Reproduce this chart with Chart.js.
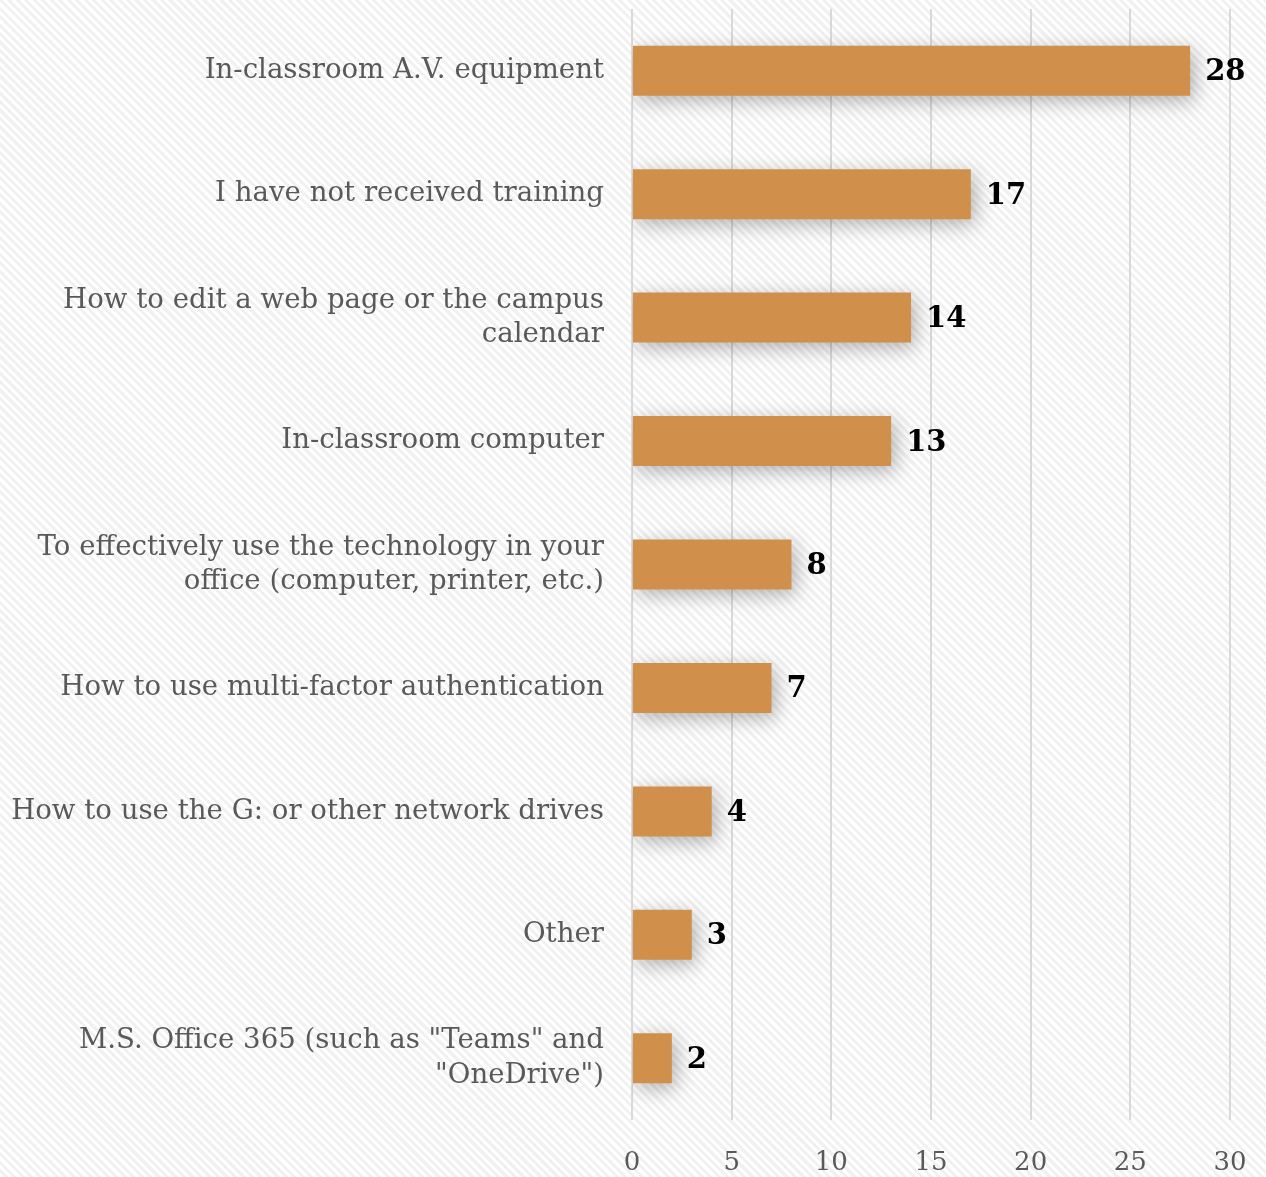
<!DOCTYPE html>
<html>
<head>
<meta charset="utf-8">
<script src="https://cdn.jsdelivr.net/npm/chart.js@4/dist/chart.umd.min.js"></script>
<style>
  html, body {
    margin: 0;
    padding: 0;
  }
  body {
    width: 1266px;
    height: 1177px;
    background: repeating-linear-gradient(45deg, #ffffff 0px, #ffffff 3px, #f1f1f1 3px, #f1f1f1 6px);
  }
  #wrap {
    position: relative;
    width: 1266px;
    height: 1177px;
  }
</style>
</head>
<body>
<div id="wrap"><canvas id="training-chart"></canvas></div>
<script>
// survey answers, top to bottom
var categories = [
    'In-classroom A.V. equipment',
    'I have not received training',
    ['How to edit a web page or the campus', 'calendar'],
    'In-classroom computer',
    ['To effectively use the technology in your', 'office (computer, printer, etc.)'],
    'How to use multi-factor authentication',
    'How to use the G: or other network drives',
    'Other',
    ['M.S. Office 365 (such as "Teams" and', '"OneDrive")']
];
var responses = [28, 17, 14, 13, 8, 7, 4, 3, 2];
var xTicks = [0, 5, 10, 15, 20, 25, 30];

var serif = '"DejaVu Serif", Georgia, serif';

// soft drop shadow behind the bars
var barShadow = {
    id: 'barShadow',
    beforeDatasetDraw: function(chart) {
        var ctx = chart.ctx;
        ctx.save();
        ctx.shadowColor = 'rgba(0, 0, 0, 0.3)';
        ctx.shadowBlur = 20;
        ctx.shadowOffsetX = 4;
        ctx.shadowOffsetY = 5;
    },
    afterDatasetDraw: function(chart) {
        chart.ctx.restore();
    }
};

// value printed just past the end of each bar
var valueLabels = {
    id: 'valueLabels',
    afterDatasetsDraw: function(chart) {
        var ctx = chart.ctx;
        var meta = chart.getDatasetMeta(0);
        ctx.save();
        ctx.font = 'bold 29px ' + serif;
        ctx.fillStyle = '#000000';
        ctx.textAlign = 'left';
        ctx.textBaseline = 'middle';
        meta.data.forEach(function(bar, i) {
            ctx.fillText(String(responses[i]), bar.x + 15, bar.y + 2);
        });
        ctx.restore();
    }
};

function initChart() {
    var canvas = document.getElementById('training-chart');
    if (!canvas) return;

    new Chart(canvas, {
        type: 'bar',
        data: {
            labels: categories,
            datasets: [{
                data: responses,
                backgroundColor: '#d0904b',
                borderWidth: 0,
                barPercentage: 0.81,
                categoryPercentage: 0.5
            }]
        },
        options: {
            indexAxis: 'y',
            responsive: true,
            maintainAspectRatio: false,
            animation: false,
            layout: {
                padding: { top: 9, right: 36, bottom: 0, left: 0 }
            },
            plugins: {
                legend: { display: false },
                tooltip: { enabled: false }
            },
            scales: {
                x: {
                    min: 0,
                    max: 30,
                    afterBuildTicks: function(scale) {
                        scale.ticks = xTicks.map(function(v) { return { value: v }; });
                    },
                    afterFit: function(scale) {
                        scale.height = 57;
                        scale.paddingLeft = 0;
                        scale.paddingRight = 0;
                    },
                    grid: {
                        color: '#d9d9d9',
                        lineWidth: 2,
                        drawTicks: false
                    },
                    border: { display: false },
                    ticks: {
                        color: '#595959',
                        padding: 28,
                        font: { family: serif, size: 26 }
                    }
                },
                y: {
                    afterFit: function(scale) {
                        scale.width = 632;
                        scale.paddingTop = 0;
                        scale.paddingBottom = 0;
                    },
                    grid: { display: false, drawTicks: false },
                    border: { display: false },
                    ticks: {
                        color: '#595959',
                        padding: 28,
                        font: { family: serif, size: 27.6, lineHeight: 1.24 }
                    }
                }
            }
        },
        plugins: [barShadow, valueLabels]
    });
}

document.addEventListener('DOMContentLoaded', initChart);
</script>
</body>
</html>
